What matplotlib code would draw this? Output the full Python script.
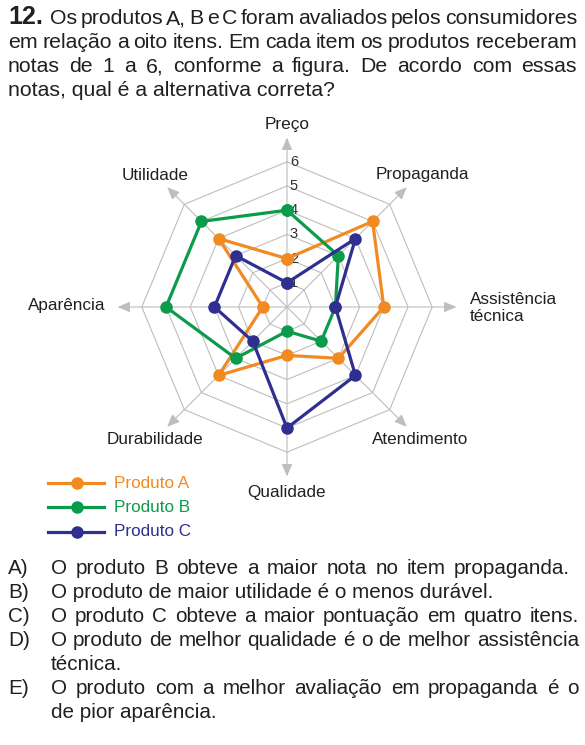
import numpy as np
import matplotlib
matplotlib.use('Agg')
import matplotlib.pyplot as plt

plt.rcParams['font.family'] = ['Liberation Sans', 'DejaVu Sans']

# Data
itens = ['Preço', 'Propaganda', 'Assistência\ntécnica', 'Atendimento',
         'Qualidade', 'Durabilidade', 'Aparência', 'Utilidade']
produto_a = [2, 5, 4, 3, 2, 4, 1, 4]
produto_b = [4, 3, 2, 2, 1, 3, 5, 5]
produto_c = [1, 4, 2, 4, 5, 2, 3, 3]
niveis = [1, 2, 3, 4, 5, 6]
nomes = ['Produto A', 'Produto B', 'Produto C']
cores = ['#F18A22', '#0A9B4B', '#2E2F8F']

W, H = 585, 745
cx, cy = 287, 307      # centre of the radar in pixels
u = 24.2               # pixels per score unit

fig = plt.figure(figsize=(W / 100, H / 100), dpi=100)
ax = fig.add_axes([0, 0, 1, 1])
ax.set_xlim(-cx / u, (W - cx) / u)
ax.set_ylim(-(H - cy) / u, cy / u)
ax.axis('off')

n = len(itens)
ang = np.arange(n) * 2 * np.pi / n


def xy(vals):
    vals = np.asarray(vals, dtype=float)
    return vals * np.sin(ang), vals * np.cos(ang)


grid_col = '#BEBEBE'
# octagon rings
for lv in niveis:
    gx, gy = xy([lv] * n)
    ax.plot(np.append(gx, gx[0]), np.append(gy, gy[0]), color=grid_col, lw=0.8, zorder=1)
# spokes with arrowheads
for a in ang:
    ax.annotate('', xy=(7.0 * np.sin(a), 7.0 * np.cos(a)), xytext=(0, 0),
                arrowprops=dict(arrowstyle='-|>,head_length=0.75,head_width=0.32',
                                color=grid_col, lw=0.8, mutation_scale=10,
                                shrinkA=0, shrinkB=0), zorder=1)
# scale numbers along the Preço axis
for lv in niveis:
    ax.text(0.12, lv, str(lv), fontsize=10.5, color='#333333', ha='left', va='center', zorder=2)

# series
for vals, nome, cor in zip([produto_a, produto_b, produto_c], nomes, cores):
    px, py = xy(vals)
    ax.plot(np.append(px, px[0]), np.append(py, py[0]), color=cor, lw=2.3,
            marker='o', markersize=8, zorder=3)

# axis labels (pixel positions)
lab_fs = 12.3
lab_pos = [(287, 124, 'center'), (422, 175, 'center'), (470, 308, 'left'),
           (420, 440, 'center'), (287, 492, 'center'), (155, 440, 'center'),
           (67, 306, 'center'), (155, 175, 'center')]
for txt, (lx, ly, ha) in zip(itens, lab_pos):
    fig.text(lx / W, 1 - ly / H, txt, fontsize=lab_fs, color='#231F20', ha=ha, va='center',
             linespacing=1.1)

# legend
leg_y = [483, 507, 532]
for nome, cor, ly in zip(nomes, cores, leg_y):
    ax.plot([(48 - cx) / u, (104 - cx) / u], [(cy - ly) / u] * 2, color=cor, lw=2.3, zorder=3)
    ax.plot([(77 - cx) / u], [(cy - ly) / u], 'o', color=cor, markersize=8, zorder=3)
    fig.text(114 / W, 1 - ly / H, nome, fontsize=lab_fs, color=cor, ha='left', va='center')

renderer = fig.canvas.get_renderer()
txt_col = '#231F20'


def justify(words, x0, x1, y, size, weight='normal'):
    # place words so that the line runs from x0 to x1 (pixels)
    while True:
        ts = [fig.text(0, 1 - y / H, w, fontsize=size, color=txt_col, va='center',
                       ha='left', fontweight=weight) for w in words]
        ws = [t.get_window_extent(renderer).width for t in ts]
        gap = (x1 - x0 - sum(ws)) / max(len(words) - 1, 1)
        if gap >= 3 or size < 8:
            break
        for t in ts:
            t.remove()
        size -= 0.2
    x = x0
    for t, w in zip(ts, ws):
        t.set_x(x / W)
        x += w + gap


def left(text, x0, y, size, weight='normal'):
    fig.text(x0 / W, 1 - y / H, text, fontsize=size, color=txt_col, va='center',
             ha='left', fontweight=weight)


# question text
fs = 15.3
left('12.', 8, 17, 18, weight='bold')
justify('Os produtos A, B e C foram avaliados pelos consumidores'.split(), 50, 577, 19, fs)
justify('em relação a oito itens. Em cada item os produtos receberam'.split(), 8, 577, 43, fs)
justify('notas de 1 a 6, conforme a figura. De acordo com essas'.split(), 8, 577, 67, fs)
left('notas, qual é a alternativa correta?', 8, 91, fs)

# alternatives
fo = 14.9
alts = [('A)', 'O produto B obteve a maior nota no item propaganda.', 568, 570),
        ('B)', 'O produto de maior utilidade é o menos durável.', 592, None),
        ('C)', 'O produto C obteve a maior pontuação em quatro itens.', 616, 579),
        ('D)', 'O produto de melhor qualidade é o de melhor assistência', 640, 579),
        ('', 'técnica.', 664, None),
        ('E)', 'O produto com a melhor avaliação em propaganda é o', 688, 579),
        ('', 'de pior aparência.', 712, None)]
for letra, frase, y, x1 in alts:
    if letra:
        left(letra, 8, y, fo)
    if x1 is None:
        left(frase, 51, y, fo)
    else:
        justify(frase.split(), 51, x1, y, fo)

fig.savefig('out.png', dpi=100)
